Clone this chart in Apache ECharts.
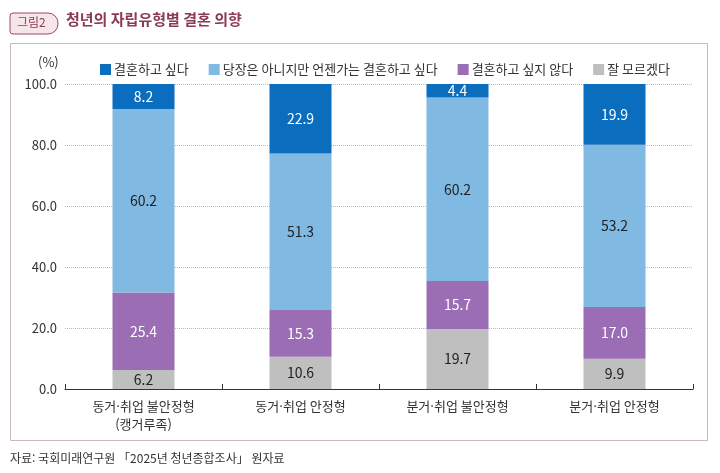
<!DOCTYPE html>
<html lang="ko">
<head>
<meta charset="UTF-8">
<title>청년의 자립유형별 결혼 의향</title>
<script src="https://cdn.jsdelivr.net/npm/echarts@6/dist/echarts.min.js"></script>
<style>
  html, body { margin: 0; padding: 0; background: #fff; }
  #main { width: 720px; height: 473px; }
</style>
</head>
<body>
<div id="main"></div>
<script>
var categories = ['동거·취업 불안정형\n(캥거루족)', '동거·취업 안정형', '분거·취업 불안정형', '분거·취업 안정형'];
var seriesNames = ['결혼하고 싶다', '당장은 아니지만 언젠가는 결혼하고 싶다', '결혼하고 싶지 않다', '잘 모르겠다'];
var wantMarry = [8.2, 22.9, 4.4, 19.9];
var someday = [60.2, 51.3, 60.2, 53.2];
var notWant = [25.4, 15.3, 15.7, 17.0];
var dontKnow = [6.2, 10.6, 19.7, 9.9];
var colors = ['#0b6dbd', '#80b9e2', '#9a6db4', '#bfbfbf'];

var font = '"Noto Sans CJK KR", "Noto Sans", sans-serif';
var myChart = echarts.init(document.getElementById('main'));

function mk(name, data, color, labelColor) {
    return {
        name: name, type: 'bar', stack: 'all', data: data, barWidth: 62,
        itemStyle: { color: color },
        label: { show: true, position: 'inside', color: labelColor, fontSize: 14, fontFamily: font,
            formatter: function (p) { return p.value.toFixed(1); } }
    };
}

var option = {
    animation: false,
    textStyle: { fontFamily: font },
    graphic: [
        { type: 'rect', shape: { x: 10, y: 13, width: 48, height: 21, r: [3, 10, 10, 3] },
          style: { fill: '#f6e6ea', stroke: '#9c4a62', lineWidth: 1 } },
        { type: 'text', left: 17, top: 16, style: { text: '그림2', fill: '#8b3a52', font: '12px ' + font } },
        { type: 'text', left: 66, top: 12, style: { text: '청년의 자립유형별 결혼 의향', fill: '#8b3a52', font: 'bold 15px ' + font } },
        { type: 'rect', shape: { x: 10.5, y: 43.5, width: 697, height: 397 },
          style: { fill: 'none', stroke: '#c9b8be', lineWidth: 1 } },
        { type: 'text', left: 38, top: 56, style: { text: '(%)', fill: '#333', font: '13px ' + font } },
        { type: 'text', left: 10, top: 452, style: { text: '자료: 국회미래연구원 「2025년 청년종합조사」 원자료', fill: '#333', font: '12px ' + font } }
    ],
    legend: {
        top: 58, left: 95, itemWidth: 11, itemHeight: 11, itemGap: 20,
        icon: 'rect',
        textStyle: { fontSize: 13, color: '#333', fontFamily: font, padding: [0, 0, 0, -2] },
        data: seriesNames
    },
    grid: { left: 65, right: 27, top: 84, bottom: 84 },
    xAxis: {
        type: 'category', data: categories,
        axisLine: { lineStyle: { color: '#333' } },
        axisTick: { show: true, length: 5, inside: true, alignWithLabel: false, lineStyle: { color: '#333' } },
        axisLabel: { color: '#333', fontSize: 13, lineHeight: 18, margin: 8 }
    },
    yAxis: {
        type: 'value', min: 0, max: 100, interval: 20,
        axisLine: { show: false }, axisTick: { show: false },
        axisLabel: { color: '#333', fontSize: 13, formatter: function (v) { return v.toFixed(1); } },
        splitLine: { lineStyle: { color: '#bbb', type: 'dotted' } }
    },
    series: [
        mk(seriesNames[3], dontKnow, colors[3], '#222'),
        mk(seriesNames[2], notWant, colors[2], '#fff'),
        mk(seriesNames[1], someday, colors[1], '#222'),
        mk(seriesNames[0], wantMarry, colors[0], '#fff')
    ]
};
option.legend.data = seriesNames;
myChart.setOption(option);
</script>
</body>
</html>
